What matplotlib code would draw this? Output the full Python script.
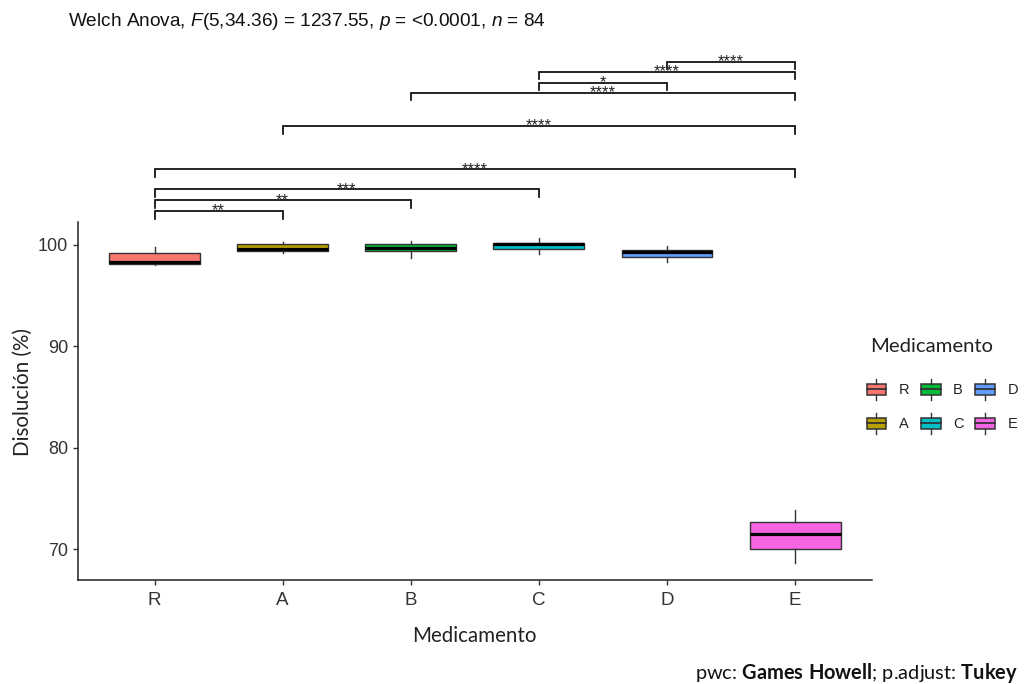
import matplotlib
matplotlib.use("Agg")
import matplotlib.pyplot as plt
from matplotlib.patches import Rectangle, Patch
from matplotlib.lines import Line2D
from matplotlib.legend_handler import HandlerBase

# ---- data ----
groups = ["R", "A", "B", "C", "D", "E"]
colors = ["#F8766D", "#B79F00", "#00BA38", "#00BFC4", "#619CFF", "#F564E3"]
whisker_low = [98.00, 99.21, 98.66, 99.08, 98.27, 68.61]
q1 = [98.10, 99.38, 99.41, 99.55, 98.82, 69.99]
median = [98.33, 99.58, 99.70, 100.07, 99.31, 71.50]
q3 = [99.18, 100.04, 100.04, 100.20, 99.48, 72.71]
whisker_high = [99.77, 100.24, 100.36, 100.63, 99.90, 73.86]

pair_left = ["R", "R", "R", "R", "A", "B", "C", "C", "D"]
pair_right = ["A", "B", "C", "E", "E", "E", "D", "E", "E"]
pair_signif = ["**", "**", "***", "****", "****", "****", "*", "****", "****"]
pair_y = [103.32, 104.40, 105.46, 107.43, 111.69, 114.98, 115.96, 117.04, 118.03]

W, H = 1024, 684

plt.rcParams["mathtext.fontset"] = "custom"
plt.rcParams["mathtext.it"] = "Liberation Sans:italic"
plt.rcParams["mathtext.rm"] = "Liberation Sans"
plt.rcParams["mathtext.bf"] = "Lato:bold"

fig = plt.figure(figsize=(W / 100, H / 100), dpi=100)
fig.patch.set_facecolor("white")


def fx(px):
    return px / W


def fy(py):
    return 1 - py / H


ax = fig.add_axes([fx(77.7), fy(580), fx(872) - fx(77.7), fy(222) - fy(580)])

edge = "#333333"
positions = list(range(1, len(groups) + 1))
stats = [
    dict(whislo=wl, q1=a, med=m, q3=b, whishi=wh, label=g)
    for g, wl, a, m, b, wh in zip(groups, whisker_low, q1, median, q3, whisker_high)
]
bp = ax.bxp(
    stats,
    positions=positions,
    widths=0.71,
    patch_artist=True,
    showcaps=False,
    showfliers=False,
    boxprops=dict(edgecolor=edge, linewidth=1.0),
    medianprops=dict(color="black", linewidth=2.3),
    whiskerprops=dict(color=edge, linewidth=1.0),
)
for box, c in zip(bp["boxes"], colors):
    box.set_facecolor(c)

ax.set_xlim(0.4, 6.6)
ax.set_ylim(66.98, 102.24)
ax.set_yticks([70, 80, 90, 100])
ax.set_xticks(positions)
ax.set_xticklabels(groups)

for s in ["top", "right"]:
    ax.spines[s].set_visible(False)
for s in ["left", "bottom"]:
    ax.spines[s].set_linewidth(1.1)
    ax.spines[s].set_color("#222222")

ax.tick_params(axis="both", length=3.5, width=1.0, color="#333333",
               labelcolor="#333333")
ax.tick_params(axis="y", pad=3.5, labelsize=13)
ax.tick_params(axis="x", pad=5, labelsize=13.5)
for lab in ax.get_xticklabels() + ax.get_yticklabels():
    lab.set_family("Liberation Sans")

# axis titles
fig.text(fx(474), fy(636), "Medicamento", family="Lato", fontsize=14.8,
         color="#222222", ha="center", va="center")
fig.text(fx(23), fy(392.5), "Disolución (%)", family="Lato", fontsize=14.8,
         color="#222222", ha="center", va="center", rotation=90)

# pairwise comparison brackets
tip = 0.75
xpos = {g: p for g, p in zip(groups, positions)}
for a, b, lab, y in zip(pair_left, pair_right, pair_signif, pair_y):
    x0, x1 = xpos[a], xpos[b]
    ax.plot([x0, x0, x1, x1], [y - tip, y, y, y - tip], color="black",
            linewidth=1.2, clip_on=False, solid_joinstyle="miter")
    ax.text((x0 + x1) / 2, y - 0.45, lab, ha="center", va="baseline",
            fontsize=12, family="Liberation Sans", color="#222222",
            clip_on=False)


# legend with small boxplot keys
class BoxKey(HandlerBase):
    def create_artists(self, legend, orig_handle, xdescent, ydescent,
                       width, height, fontsize, trans):
        x0, y0 = -xdescent, -ydescent
        rect = Rectangle((x0, y0), width, height,
                         facecolor=orig_handle.get_facecolor(),
                         edgecolor=edge, linewidth=1.1, transform=trans)
        mid = Line2D([x0, x0 + width], [y0 + height / 2] * 2,
                     color=edge, linewidth=1.3, transform=trans)
        cx = x0 + width / 2
        ext = height * 0.4
        up = Line2D([cx, cx], [y0 + height, y0 + height + ext],
                    color=edge, linewidth=1.0, transform=trans)
        dn = Line2D([cx, cx], [y0 - ext, y0], color=edge, linewidth=1.0,
                    transform=trans)
        return [rect, mid, up, dn]


handles = [Patch(facecolor=c, label=g) for g, c in zip(groups, colors)]
leg = fig.legend(
    handles=handles,
    handler_map={Patch: BoxKey()},
    loc="upper left",
    bbox_to_anchor=(fx(866.5), fy(383.5)),
    bbox_transform=fig.transFigure,
    ncol=3,
    frameon=False,
    borderpad=0,
    borderaxespad=0,
    handlelength=1.37,
    handleheight=0.87,
    handletextpad=0.84,
    columnspacing=0.8,
    labelspacing=1.37,
    prop={"family": "Liberation Sans", "size": 10.5},
)
for t in leg.get_texts():
    t.set_color("#222222")

fig.text(fx(870), fy(346), "Medicamento", family="Lato", fontsize=14.6,
         color="#222222", ha="left", va="center")

# header and caption
fig.text(fx(68), fy(25.7),
         r"Welch Anova, $F$(5,34.36) = 1237.55, $p$ = <0.0001, $n$ = 84",
         family="Liberation Sans", fontsize=13.7, color="#111111",
         ha="left", va="baseline")
fig.text(fx(1018), fy(679),
         r"pwc: $\mathbf{Games\ Howell}$; p.adjust: $\mathbf{Tukey}$",
         family="Lato", fontsize=14.4, color="#111111", ha="right", va="baseline")

fig.savefig("out.png", dpi=100, facecolor="white")
